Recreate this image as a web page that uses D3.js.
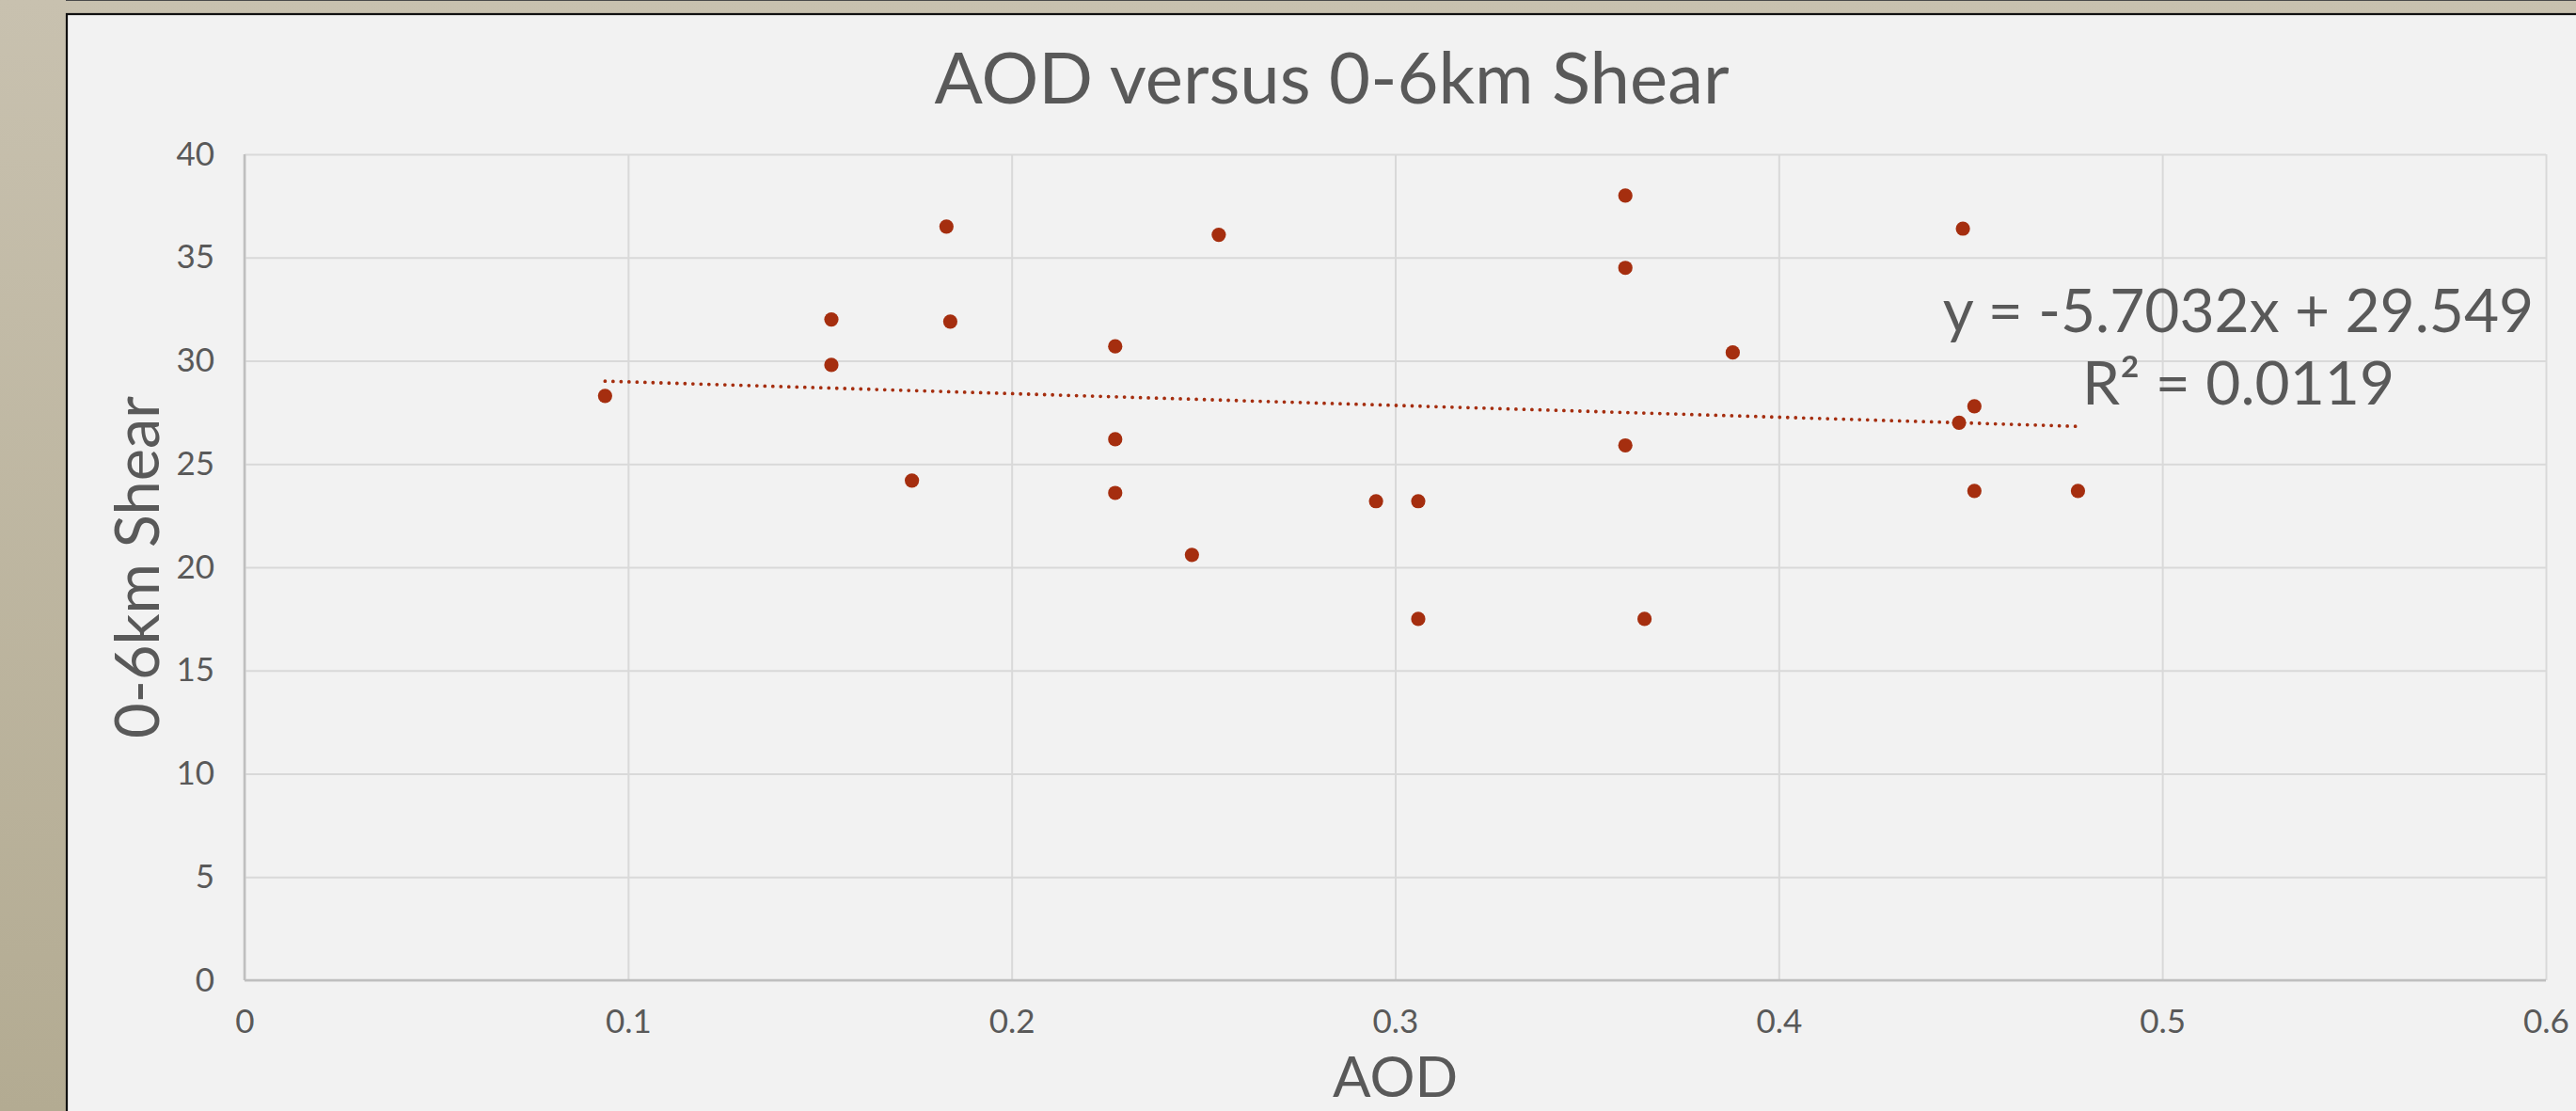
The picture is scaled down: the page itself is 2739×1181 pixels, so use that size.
<!DOCTYPE html>
<html>
<head>
<meta charset="utf-8">
<script src="https://cdn.jsdelivr.net/npm/d3@7"></script>
<style>
    html, body { margin: 0; padding: 0; background: #c7c0ae; }
    svg { display: block; }
    text { font-family: Lato, "Open Sans", sans-serif; fill: #595959; }
</style>
</head>
<body>
<svg width="2739" height="1181"></svg>
<script>
// AOD vs 0-6km shear
const aod = [0.094, 0.153, 0.153, 0.174, 0.183, 0.184, 0.227, 0.227, 0.227, 0.254, 0.247, 0.295,
             0.306, 0.306, 0.360, 0.360, 0.360, 0.365, 0.388, 0.448, 0.447, 0.451, 0.451, 0.478];
const shear = [28.3, 32.0, 29.8, 24.2, 36.5, 31.9, 30.7, 26.2, 23.6, 36.1, 20.6, 23.2,
               23.2, 17.5, 38.0, 34.5, 25.9, 17.5, 30.4, 36.4, 27.0, 27.8, 23.7, 23.7];

const xTicks = [0, 0.1, 0.2, 0.3, 0.4, 0.5, 0.6];
const yTicks = [0, 5, 10, 15, 20, 25, 30, 35, 40];

// linear trendline (Excel)
const slope = -5.7032;
const intercept = 29.549;
const rSquared = 0.0119;

const title = "AOD versus 0-6km Shear";
const xTitle = "AOD";
const yTitle = "0-6km Shear";

const data = aod.map((a, i) => ({ aod: a, shear: shear[i] }));

const svg = d3.select("svg"),
    width = +svg.attr("width"),
    height = +svg.attr("height"),
    margin = { top: 164, right: 32, bottom: 139, left: 260 },
    graphWidth = width - margin.left - margin.right,
    graphHeight = height - margin.top - margin.bottom;

// slide frame
const grad = svg.append("defs").append("linearGradient")
    .attr("id", "frame").attr("x1", 0).attr("y1", 0).attr("x2", 0).attr("y2", 1);
grad.append("stop").attr("offset", "0%").attr("stop-color", "#c8c1af");
grad.append("stop").attr("offset", "100%").attr("stop-color", "#b3ab92");

svg.append("rect").attr("width", width).attr("height", height).attr("fill", "url(#frame)");
svg.append("line").attr("x1", 70).attr("x2", width).attr("y1", 0.5).attr("y2", 0.5)
    .attr("stroke", "#4a4a4a").attr("stroke-width", 1);
svg.append("rect")
    .attr("x", 71).attr("y", 15)
    .attr("width", width).attr("height", height)
    .attr("fill", "#f2f2f2")
    .attr("stroke", "#111").attr("stroke-width", 2.2);

const x = d3.scaleLinear().domain([0, 0.6]).range([0, graphWidth]);
const y = d3.scaleLinear().domain([0, 40]).range([graphHeight, 0]);

const g = svg.append("g")
    .attr("transform", `translate(${margin.left}, ${margin.top})`);

// gridlines + tick labels
const xAxis = g.append("g")
    .attr("transform", `translate(0, ${graphHeight})`)
    .call(d3.axisBottom(x).tickValues(xTicks).tickFormat(d3.format("")).tickSizeInner(-graphHeight).tickSizeOuter(0).tickPadding(31));

const yAxis = g.append("g")
    .call(d3.axisLeft(y).tickValues(yTicks).tickSizeInner(-graphWidth).tickSizeOuter(0).tickPadding(32));

[xAxis, yAxis].forEach(ax => {
    ax.select(".domain").remove();
    ax.selectAll(".tick line").attr("stroke", "#d9d9d9").attr("stroke-width", 2);
    ax.selectAll(".tick text").style("font-size", "35px").attr("fill", "#595959");
});

// axis lines at zero
g.append("line").attr("x1", 0).attr("x2", 0).attr("y1", 0).attr("y2", graphHeight)
    .attr("stroke", "#bfbfbf").attr("stroke-width", 2.5);
g.append("line").attr("x1", 0).attr("x2", graphWidth).attr("y1", graphHeight).attr("y2", graphHeight)
    .attr("stroke", "#bfbfbf").attr("stroke-width", 2.5);

// trendline over data range
const xExt = d3.extent(aod);
const trend = xExt.map(a => ({ aod: a, shear: slope * a + intercept }));
const line = d3.line().x(d => x(d.aod)).y(d => y(d.shear));

g.append("path").datum(trend)
    .attr("d", line)
    .attr("fill", "none")
    .attr("stroke", "#a52e0f")
    .attr("stroke-width", 3.8)
    .attr("stroke-linecap", "round")
    .attr("stroke-dasharray", "0 8.5");

g.selectAll("circle")
    .data(data)
    .enter()
    .append("circle")
    .attr("cx", d => x(d.aod))
    .attr("cy", d => y(d.shear))
    .attr("r", 7.6)
    .attr("fill", "#a52e0f");

// equation label
const eq = svg.append("text")
    .attr("text-anchor", "middle")
    .style("font-size", "64px");
eq.append("tspan").attr("x", 2380).attr("y", 353)
    .text(`y = ${slope}x + ${intercept}`);
eq.append("tspan").attr("x", 2380).attr("y", 430)
    .text(`R² = ${rSquared}`);

// titles
svg.append("text")
    .attr("x", 1416).attr("y", 110)
    .attr("text-anchor", "middle")
    .style("font-size", "76px")
    .text(title);

svg.append("text")
    .attr("x", margin.left + graphWidth / 2).attr("y", 1166)
    .attr("text-anchor", "middle")
    .style("font-size", "60px")
    .text(xTitle);

svg.append("text")
    .attr("transform", `translate(169, ${margin.top + graphHeight / 2}) rotate(-90)`)
    .attr("text-anchor", "middle")
    .style("font-size", "65px")
    .text(yTitle);
</script>
</body>
</html>
